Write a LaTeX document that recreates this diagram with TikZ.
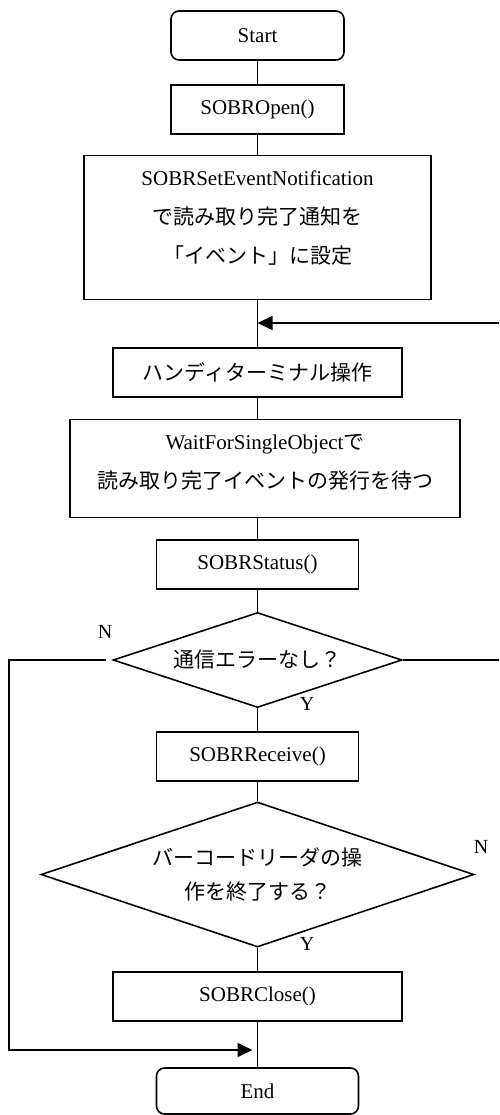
\documentclass[tikz,border=0pt]{standalone}
\usepackage{fontspec}
\setmainfont{Liberation Serif}
\newfontfamily\jp{Noto Sans CJK JP}
\usetikzlibrary{arrows.meta}
\usetikzlibrary{shapes.geometric}

\tikzset{
  proc/.style={draw, line width=1.6pt, rectangle, inner sep=0pt, minimum height=49pt,
               align=center, font=\fontsize{21}{39}\selectfont},
  term/.style={proc, rounded corners=8pt},
  cond/.style={draw, line width=1.6pt, diamond, aspect=3, inner sep=0pt,
               align=center, font=\fontsize{21}{39}\selectfont},
  yn/.style={inner sep=0pt, font=\fontsize{20}{20}\selectfont},
  link/.style={line width=1.6pt},
  back/.style={link, -{Triangle[length=15pt,width=14pt]}}
}

\begin{document}
\begin{tikzpicture}[x=1pt,y=-1pt]
  \useasboundingbox (0,0) rectangle (499,1115);

  % Steps
  \node[term, minimum width=173pt]                                        (start)  at (257.5,35.5)  {Start};
  \node[proc, minimum width=173pt]                                        (open)   at (257.5,109.5) {SOBROpen()};
  \node[proc, minimum width=347pt, minimum height=144pt, text depth=21pt] (notify) at (257.5,227.5) {SOBRSetEventNotification\\{\jp で読み取り完了通知を}\\{\jp 「イベント」に設定}};
  \node[proc, minimum width=289pt]                                        (handy)  at (257.5,372.5) {{\jp ハンディターミナル操作}};
  \node[proc, minimum width=390pt, minimum height=98pt, text depth=15pt]  (wait)   at (265,468.5)   {WaitForSingleObject{\jp で}\\{\jp 読み取り完了イベントの発行を待つ}};
  \node[proc, minimum width=202pt]                                        (status) at (257.5,564.5) {SOBRStatus()};
  \node[cond, minimum width=289pt, minimum height=95pt]                   (comm)   at (257.5,660)   {{\jp 通信エラーなし？}};
  \node[proc, minimum width=202pt]                                        (recv)   at (257.5,756.5) {SOBRReceive()};
  \node[cond, minimum width=433pt, minimum height=145pt]                  (quit)   at (257.5,874.5) {{\jp バーコードリーダの操}\\[-5pt]{\jp 作を終了する？}};
  \node[proc, minimum width=289pt]                                        (close)  at (257.5,996.5) {SOBRClose()};
  \node[term, minimum width=202pt, minimum height=46pt]                   (end)    at (257.5,1091)  {End};

  % Branch labels
  \node[yn] (commN) at (105,632) {N};
  \node[yn] (commY) at (307,704) {Y};
  \node[yn] (quitN) at (481,847) {N};
  \node[yn] (quitY) at (307,944) {Y};

  % Loop ends
  \coordinate (rejoin) at (257.5,323);
  \coordinate (rin)    at (499,323);
  \coordinate (rout)   at (499,660);
  \coordinate (lturn)  at (9,660);
  \coordinate (lbot)   at (9,1050);

  % Main line
  \draw[link] (start) -- (open);
  \draw[link] (open) -- (notify);
  \draw[link] (notify) -- (handy);
  \draw[link] (handy.south) -- (handy.south |- wait.north);
  \draw[link] (status.north |- wait.south) -- (status.north);
  \draw[link] (status) -- (comm);
  \draw[link] (comm) -- (recv);
  \draw[link] (recv) -- (quit);
  \draw[link] (quit) -- (close);
  \draw[link] (close) -- (end);

  % Loops
  \draw[back] (rin) -- (rejoin);
  \draw[link] (comm.east) -- (rout);
  \draw[back, shorten <=6pt] (comm.west) -- (lturn) -- (lbot) -- ([xshift=-5pt]lbot -| close.south);
\end{tikzpicture}
\end{document}
